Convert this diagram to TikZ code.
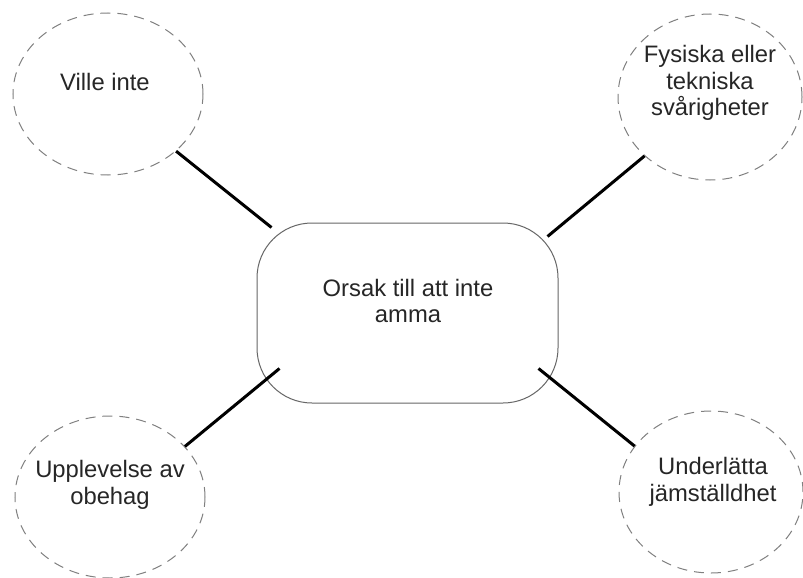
\documentclass[tikz,border=0pt]{standalone}
\usepackage{fontspec}
\setmainfont{Liberation Sans}
\usetikzlibrary{shapes.geometric}
\begin{document}
\begin{tikzpicture}[x=1pt,y=-1pt,
 bubble/.style={ellipse,draw=black!50,line width=1pt,dash pattern=on 10pt off 7pt,inner sep=0pt},
 txt/.style={align=center,font=\fontsize{23.8}{26.5}\selectfont,text=black!85,inner sep=0pt},
 link/.style={line width=3pt,black},
 core/.style={draw=black!60,line width=1pt,rounded corners=55pt,minimum width=301pt,minimum height=180pt,inner sep=0pt}]
\useasboundingbox (0,0) rectangle (803,578);
\fill[white] (0,0) rectangle (803,578);
\node[core] (c) at (407.5,313) {};
\node[bubble,minimum width=190pt,minimum height=162pt] (tl) at (108,94) {};
\node[bubble,minimum width=184pt,minimum height=166pt] (tr) at (710,97) {};
\node[bubble,minimum width=190pt,minimum height=162pt] (bl) at (110,497) {};
\node[bubble,minimum width=184pt,minimum height=162pt] (br) at (711,492) {};
\node[txt] (tct) at (408,301) {Orsak till att inte\\amma};
\node[txt] (ttl) at (105,82) {Ville inte};
\node[txt] (ttr) at (710,83) {Fysiska eller\\tekniska\\svårigheter};
\node[txt] (tbl) at (110,485) {Upplevelse av\\obehag};
\node[txt] (tbr) at (713,482) {Underlätta\\jämställdhet};
\draw[link] (tl.-40) -- ([xshift=15pt,yshift=-5pt]c.north west);
\draw[link] (tr.222) -- ([xshift=-11pt,yshift=-14pt]c.north east);
\draw[link] (bl.34) -- ([xshift=23pt,yshift=35pt]c.south west);
\draw[link] (br.149) -- ([xshift=-20pt,yshift=35pt]c.south east);
\end{tikzpicture}
\end{document}
